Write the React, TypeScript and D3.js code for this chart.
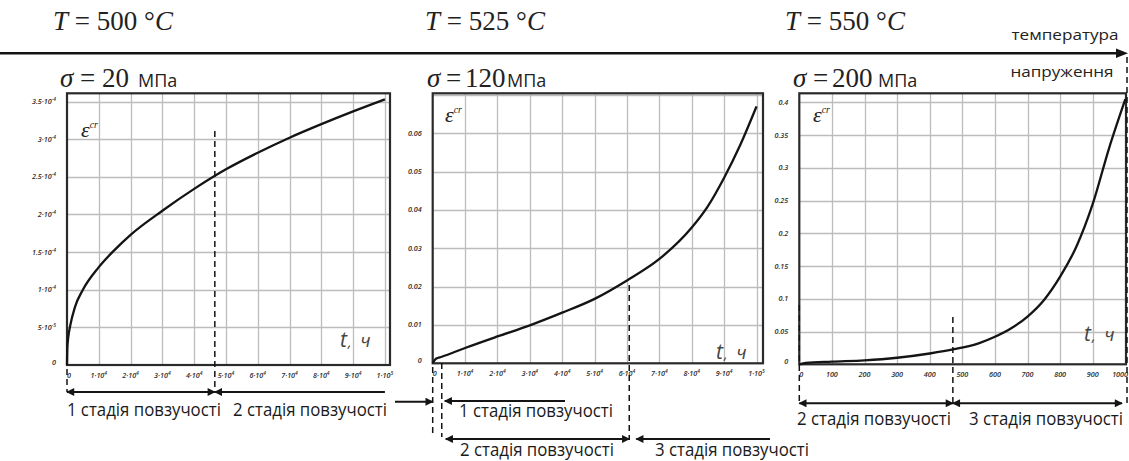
import React from "react";
import * as d3 from "d3";

// ---------------- data ----------------
const temperatures = ["500", "525", "550"];
const stresses = ["20", "120", "200"];

// Panel 1: T = 500 °C, σ = 20 MPa  (t, h ; creep strain)
const p1Time = [0, 100, 400, 1000, 2500, 5000, 10000, 15000, 20000, 30000, 40000, 50000, 60000, 70000, 80000, 90000, 100000];
const p1Strain = [0, 0.22e-4, 0.37e-4, 0.52e-4, 0.77e-4, 1.0e-4, 1.3e-4, 1.53e-4, 1.73e-4, 2.05e-4, 2.34e-4, 2.6e-4, 2.82e-4, 3.02e-4, 3.2e-4, 3.37e-4, 3.53e-4];

// Panel 2: T = 525 °C, σ = 120 MPa
const p2Time = [0, 1000, 2800, 10000, 20000, 30000, 40000, 50000, 60000, 70000, 80000, 85000, 90000, 95000, 100000];
const p2Strain = [0, 0.0012, 0.0017, 0.004, 0.007, 0.0099, 0.0132, 0.0168, 0.0216, 0.0272, 0.0354, 0.041, 0.0484, 0.057, 0.067];

// Panel 3: T = 550 °C, σ = 200 MPa
const p3Time = [0, 20, 100, 200, 300, 400, 475, 550, 600, 650, 700, 750, 800, 850, 900, 950, 1000];
const p3Strain = [0, 0.002, 0.004, 0.006, 0.01, 0.0165, 0.023, 0.032, 0.042, 0.055, 0.073, 0.098, 0.134, 0.18, 0.245, 0.33, 0.405];

// ticks
const p1XTicks = [0, 1e4, 2e4, 3e4, 4e4, 5e4, 6e4, 7e4, 8e4, 9e4, 1e5];
const p1XLabels = ["0", "1·10^4", "2·10^4", "3·10^4", "4·10^4", "5·10^4", "6·10^4", "7·10^4", "8·10^4", "9·10^4", "1·10^5"];
const p1YTicks = [0, 5e-5, 1e-4, 1.5e-4, 2e-4, 2.5e-4, 3e-4, 3.5e-4];
const p1YLabels = ["0", "5·10^-5", "1·10^-4", "1.5·10^-4", "2·10^-4", "2.5·10^-4", "3·10^-4", "3.5·10^-4"];

const p2XTicks = [0, 1e4, 2e4, 3e4, 4e4, 5e4, 6e4, 7e4, 8e4, 9e4, 1e5];
const p2XLabels = ["0", "1·10^4", "2·10^4", "3·10^4", "4·10^4", "5·10^4", "6·10^4", "7·10^4", "8·10^4", "9·10^4", "1·10^5"];
const p2YTicks = [0, 0.01, 0.02, 0.03, 0.04, 0.05, 0.06, 0.07];
const p2YLabels = ["0", "0.01", "0.02", "0.03", "0.04", "0.05", "0.06", ""];

const p3XTicks = [0, 100, 200, 300, 400, 500, 600, 700, 800, 900, 1000];
const p3XLabels = ["0", "100", "200", "300", "400", "500", "600", "700", "800", "900", "1000"];
const p3YTicks = [0, 0.05, 0.1, 0.15, 0.2, 0.25, 0.3, 0.35, 0.4];
const p3YLabels = ["0", "0.05", "0.1", "0.15", "0.2", "0.25", "0.3", "0.35", "0.4"];

// stage boundaries (t, h)
const p1Stages = [46500];
const p2Stages = [2800, 60700];
const p3Stages = [471];

const stageLabels = ["1 стадія повзучості", "2 стадія повзучості", "3 стадія повзучості"];

// ---------------- layout ----------------
const W = 1129;
const H = 461;

const panels = [
  { time: p1Time, strain: p1Strain, xTicks: p1XTicks, xLabels: p1XLabels, yTicks: p1YTicks, yLabels: p1YLabels,
    left: 67, right: 390, top: 93.3, bottom: 365, xMax: 101600, yMax: 3.61e-4,
    eps: [81, 137], tl: [340, 347] },
  { time: p2Time, strain: p2Strain, xTicks: p2XTicks, xLabels: p2XLabels, yTicks: p2YTicks, yLabels: p2YLabels,
    left: 432.7, right: 763, top: 93.3, bottom: 363.3, xMax: 102000, yMax: 0.0704,
    eps: [445, 122], tl: [716, 359] },
  { time: p3Time, strain: p3Strain, xTicks: p3XTicks, xLabels: p3XLabels, yTicks: p3YTicks, yLabels: p3YLabels,
    left: 799.3, right: 1126, top: 93.3, bottom: 364.3, xMax: 1002, yMax: 0.414,
    eps: [813, 122], tl: [1084, 341] },
];

const SANS = "'Open Sans', 'Noto Sans', sans-serif";
const SERIF = "'Liberation Serif', 'DejaVu Serif', serif";
const GRID = "#bcbcbc";
const INK = "#141414";

function TickText({ label, x, y, anchor }: { label: string; x: number; y: number; anchor: string }) {
  const [base, exp] = label.split("^");
  return (
    <text x={x} y={y} textAnchor={anchor} fontSize={7.2} fontStyle="italic" fontFamily={SANS} fill="#2a2a2a" fontWeight={600}>
      {base}
      {exp !== undefined && (
        <tspan dy={-3} fontSize={5}>
          {exp}
        </tspan>
      )}
    </text>
  );
}

function Panel({ p }: { p: any }) {
  const x = d3.scaleLinear().domain([0, p.xMax]).range([p.left, p.right]);
  const y = d3.scaleLinear().domain([0, p.yMax]).range([p.bottom, p.top]);
  const pts = p.time.map((t: number, i: number) => [t, p.strain[i]] as [number, number]);
  const line = d3
    .line<[number, number]>()
    .x((d) => x(d[0]))
    .y((d) => y(d[1]))
    .curve(d3.curveMonotoneX);
  const gx: number[] = p.xTicks.filter((t: number) => t > 0 && x(t) < p.right - 2);
  const gy: number[] = p.yTicks.filter((t: number) => t > 0 && y(t) > p.top + 1);
  const gridPath =
    gx.map((t) => `M${Math.round(x(t)) + 0.5},${p.top}V${p.bottom}`).join("") +
    gy.map((t) => `M${p.left},${Math.round(y(t)) + 0.5}H${p.right}`).join("");
  const lastX = p.xTicks.length - 1;
  return (
    <g>
      <path d={gridPath} fill="none" stroke={GRID} strokeWidth={1.3} />
      <rect x={p.left} y={p.top} width={p.right - p.left} height={p.bottom - p.top} fill="none" stroke="#2a2a2a" strokeWidth={2.2} />
      <path d={line(pts) || ""} fill="none" stroke={INK} strokeWidth={2.3} />
      {p.xTicks.map((t: number, i: number) => {
        const xx = x(t) + (i === 0 ? 2 : 0);
        const clip = xx + 9 > W;
        return (
          <TickText key={"lx" + t} label={p.xLabels[i]} x={clip ? W - 1 : xx} y={p.bottom + 13} anchor={clip && i === lastX ? "end" : "middle"} />
        );
      })}
      {p.yTicks.map((t: number, i: number) => (
        <TickText key={"ly" + t} label={p.yLabels[i]} x={p.left - 11} y={y(t) + (i === 0 ? 0 : 2.5)} anchor="end" />
      ))}
      <text x={p.eps[0]} y={p.eps[1]} fontFamily={SERIF} fontStyle="italic" fontSize={22} fill="#222">
        ε<tspan dy={-9} fontSize={10}>cr</tspan>
      </text>
      <text x={p.tl[0]} y={p.tl[1]} fontFamily={SANS} fontStyle="italic" fontSize={21} fill="#444">
        t<tspan fontSize={14} dx={1}>,</tspan>
        <tspan fontSize={18} dx={9}>ч</tspan>
      </text>
    </g>
  );
}

function Arrow({ x1, x2, y, start, end }: { x1: number; x2: number; y: number; start?: boolean; end?: boolean }) {
  return (
    <line
      x1={x1}
      x2={x2}
      y1={y}
      y2={y}
      stroke={INK}
      strokeWidth={2}
      markerStart={start ? "url(#ah)" : undefined}
      markerEnd={end ? "url(#ah)" : undefined}
    />
  );
}

function VDash({ x, y1, y2 }: { x: number; y1: number; y2: number }) {
  return <line x1={x} x2={x} y1={y1} y2={y2} stroke={INK} strokeWidth={1.5} strokeDasharray="6,4" />;
}

function StageText({ cx, y, label }: { cx: number; y: number; label: string }) {
  return (
    <text x={cx} y={y} textAnchor="middle" fontFamily={SANS} fontSize={17.5} fill="#1a1a1a" textLength={154} lengthAdjust="spacingAndGlyphs">
      {label}
    </text>
  );
}

export default function App() {
  const [a, b, c] = panels;
  const x1 = d3.scaleLinear().domain([0, a.xMax]).range([a.left, a.right]);
  const x2 = d3.scaleLinear().domain([0, b.xMax]).range([b.left, b.right]);
  const x3 = d3.scaleLinear().domain([0, c.xMax]).range([c.left, c.right]);

  const tCenters = [113, 485, 845];
  const sigmaX = [
    [60, 80, 102, 138],
    [427, 446, 465, 507],
    [793, 813, 832, 878],
  ];

  return (
    <svg width={W} height={H} style={{ position: "absolute", left: 0, top: 0, background: "#fff" }}>
      <defs>
        <marker id="ah" viewBox="0 0 10 10" refX={9} refY={5} markerWidth={11} markerHeight={8} markerUnits="userSpaceOnUse" orient="auto-start-reverse">
          <path d="M0,0 L10,5 L0,10 z" fill={INK} />
        </marker>
      </defs>
      <rect x={0} y={0} width={W} height={H} fill="#fff" />

      {/* header */}
      {temperatures.map((t, i) => (
        <text key={"T" + t} x={tCenters[i]} y={30} textAnchor="middle" fontFamily={SERIF} fontSize={27} fill="#222">
          <tspan fontStyle="italic">T</tspan> = {t} °<tspan fontStyle="italic">C</tspan>
        </text>
      ))}
      <line x1={0} x2={1118} y1={53.3} y2={53.3} stroke={INK} strokeWidth={2.5} />
      <path d="M1128,53.3 L1116,48.5 L1116,58.1 z" fill={INK} />
      <text x={1065} y={40} textAnchor="middle" fontFamily={SANS} fontSize={15} fill="#222" textLength={107} lengthAdjust="spacingAndGlyphs">
        температура
      </text>
      <text x={1062} y={77} textAnchor="middle" fontFamily={SANS} fontSize={15} fill="#222" textLength={103} lengthAdjust="spacingAndGlyphs">
        напруження
      </text>

      {stresses.map((s, i) => (
        <g key={"s" + s}>
          <text x={sigmaX[i][0]} y={86.5} fontFamily={SERIF} fontStyle="italic" fontSize={27} fill="#222">σ</text>
          <text x={sigmaX[i][1]} y={86.5} fontFamily={SERIF} fontSize={27} fill="#222">=</text>
          <text x={sigmaX[i][2]} y={86.5} fontFamily={SERIF} fontSize={27} fill="#222">{s}</text>
          <text x={sigmaX[i][3]} y={86.5} fontFamily={SANS} fontSize={18} fill="#222">МПа</text>
        </g>
      ))}

      {panels.map((p, i) => (
        <Panel key={i} p={p} />
      ))}

      {/* panel 1 annotations */}
      <VDash x={x1(0)} y1={369} y2={392} />
      <VDash x={x1(p1Stages[0])} y1={131} y2={392} />
      <Arrow x1={x1(0)} x2={x1(p1Stages[0])} y={392} start end />
      <Arrow x1={x1(p1Stages[0])} x2={x1(1e5)} y={392} start />
      <StageText cx={(x1(0) + x1(p1Stages[0])) / 2 + 3} y={416} label={stageLabels[0]} />
      <StageText cx={310} y={416} label={stageLabels[1]} />
      <Arrow x1={395} x2={x2(0)} y={401.7} end />

      {/* panel 2 annotations */}
      <VDash x={x2(0)} y1={367} y2={437} />
      <VDash x={x2(p2Stages[0])} y1={363} y2={437} />
      <VDash x={x2(p2Stages[1])} y1={285} y2={440} />
      <Arrow x1={x2(p2Stages[0]) + 3} x2={565} y={401} start />
      <StageText cx={536} y={417} label={stageLabels[0]} />
      <Arrow x1={x2(p2Stages[0]) + 4} x2={x2(p2Stages[1])} y={439} start end />
      <Arrow x1={x2(p2Stages[1]) + 7} x2={770} y={439} start />
      <StageText cx={537} y={456} label={stageLabels[1]} />
      <StageText cx={732} y={456} label={stageLabels[2]} />

      {/* panel 3 annotations */}
      <VDash x={x3(0)} y1={305} y2={403} />
      <VDash x={x3(p3Stages[0])} y1={317} y2={403} />
      <VDash x={1127} y1={57} y2={403} />
      <Arrow x1={x3(0)} x2={x3(p3Stages[0])} y={403.3} start end />
      <Arrow x1={x3(p3Stages[0])} x2={1122} y={403.3} start end />
      <StageText cx={874} y={425} label={stageLabels[1]} />
      <StageText cx={1046} y={425} label={stageLabels[2]} />
    </svg>
  );
}
